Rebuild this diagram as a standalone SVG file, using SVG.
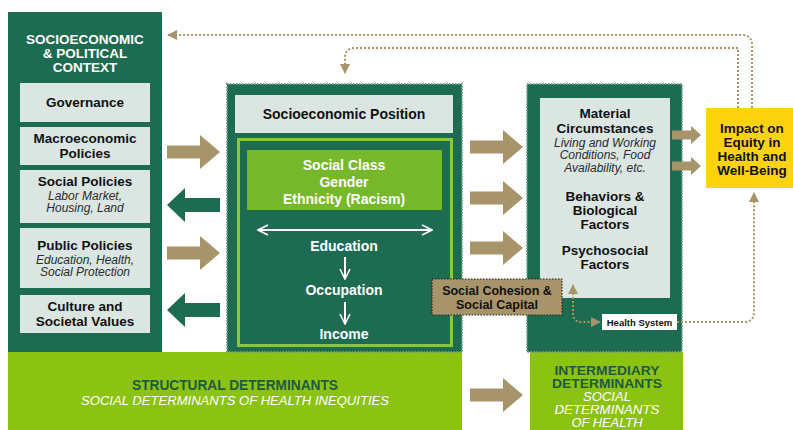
<svg xmlns="http://www.w3.org/2000/svg" width="793" height="430" viewBox="0 0 793 430">
<style>
text{font-family:"Liberation Sans",Arial,sans-serif;text-anchor:middle}
.b{font-weight:bold}
.i{font-style:italic}
.wt{fill:#ffffff}
.bk{fill:#111111}
.gy{fill:#2a2a2a}
.dg{fill:#1d6b50}
.lb{fill:#dbe6e2}
.lime{fill:#8cc212}
.tan{fill:#a8946b}
.perf{stroke:#6f9e8b;stroke-width:2;stroke-dasharray:1.5 1.5}
.con{fill:none;stroke:#a8946b;stroke-width:2;stroke-dasharray:2 2}
</style>
<defs>
<path id="ra" d="M0,-6.5H33V-17L53,0L33,17V6.5H0Z"/>
<path id="la" d="M53,-7H18V-17L0,0L18,17V7H53Z"/>
<path id="sa" d="M0,-4.5H19V-9L29,0L19,9V4.5H0Z"/>
<marker id="ah" viewBox="0 0 10 10" refX="9" refY="5" markerWidth="5" markerHeight="5" orient="auto-start-reverse" markerUnits="strokeWidth">
<path d="M0,0L10,5L0,10Z" fill="#a8946b"/>
</marker>
<marker id="wh" viewBox="0 0 12 12" refX="11" refY="6" markerWidth="6" markerHeight="6" orient="auto-start-reverse" markerUnits="strokeWidth">
<path d="M1,1L11,6L1,11" fill="none" stroke="#ffffff" stroke-width="1.6"/>
</marker>
</defs>
<rect width="793" height="430" fill="#ffffff"/>

<!-- bottom bands -->
<g id="structural">
<rect x="8" y="352" width="454" height="78" class="lime"/>
<text x="235" y="390" class="b" font-size="14" fill="#1d5a3f" textLength="206" lengthAdjust="spacingAndGlyphs">STRUCTURAL DETERMINANTS</text>
<text x="235" y="405" class="i wt" font-size="13.5" textLength="308" lengthAdjust="spacingAndGlyphs">SOCIAL DETERMINANTS OF HEALTH INEQUITIES</text>
</g>
<g id="intermediary">
<rect x="530" y="352" width="153" height="78" class="lime"/>
<text x="607" y="375" class="b" font-size="12.5" fill="#1d5a3f" textLength="105" lengthAdjust="spacingAndGlyphs">INTERMEDIARY</text>
<text x="607" y="388" class="b" font-size="12.5" fill="#1d5a3f" textLength="110" lengthAdjust="spacingAndGlyphs">DETERMINANTS</text>
<text x="607" y="401" class="i wt" font-size="12.5" textLength="48" lengthAdjust="spacingAndGlyphs">SOCIAL</text>
<text x="607" y="414" class="i wt" font-size="12.5" textLength="105" lengthAdjust="spacingAndGlyphs">DETERMINANTS</text>
<text x="607" y="427" class="i wt" font-size="12.5" textLength="71" lengthAdjust="spacingAndGlyphs">OF HEALTH</text>
</g>

<!-- left panel -->
<g id="context">
<rect x="8" y="12" width="154" height="340" class="dg"/>
<text x="85" y="44" class="b wt" font-size="13.5">SOCIOECONOMIC</text>
<text x="85" y="58" class="b wt" font-size="13.5">&amp; POLITICAL</text>
<text x="85" y="72" class="b wt" font-size="13.5">CONTEXT</text>
</g>
<g id="governance">
<rect x="20" y="83" width="130" height="39" class="lb"/>
<text x="85" y="107" class="b bk" font-size="13.5">Governance</text>
</g>
<g id="macroeconomic">
<rect x="20" y="127" width="130" height="38" class="lb"/>
<text x="85" y="143" class="b bk" font-size="13.5">Macroeconomic</text>
<text x="85" y="158" class="b bk" font-size="13.5">Policies</text>
</g>
<g id="social-policies">
<rect x="20" y="170" width="130" height="53" class="lb"/>
<text x="85" y="186" class="b bk" font-size="13.5">Social Policies</text>
<text x="85" y="199.5" class="i gy" font-size="12">Labor Market,</text>
<text x="85" y="212" class="i gy" font-size="12">Housing, Land</text>
</g>
<g id="public-policies">
<rect x="20" y="228" width="130" height="60" class="lb"/>
<text x="85" y="250" class="b bk" font-size="13.5">Public Policies</text>
<text x="85" y="263.5" class="i gy" font-size="12">Education, Health,</text>
<text x="85" y="276" class="i gy" font-size="12">Social Protection</text>
</g>
<g id="culture">
<rect x="20" y="295" width="130" height="38" class="lb"/>
<text x="85" y="310.5" class="b bk" font-size="13.5">Culture and</text>
<text x="85" y="325.5" class="b bk" font-size="13.5">Societal Values</text>
</g>

<!-- middle panel -->
<g id="socioeconomic-position">
<rect x="227" y="84" width="235" height="268" class="dg perf"/>
<rect x="235" y="95" width="218" height="38" class="lb"/>
<text x="344" y="119" class="b bk" font-size="14">Socioeconomic Position</text>
<rect x="238.5" y="139.5" width="213" height="206" fill="none" stroke="#8cc63f" stroke-width="3"/>
</g>
<g id="social-class">
<rect x="247" y="150" width="195" height="60" fill="#77b82a"/>
<text x="344" y="170" class="b wt" font-size="14">Social Class</text>
<text x="344" y="187" class="b wt" font-size="14">Gender</text>
<text x="344" y="204" class="b wt" font-size="14">Ethnicity (Racism)</text>
</g>
<g id="education">
<text x="344" y="251" class="b wt" font-size="14">Education</text>
</g>
<g id="occupation">
<text x="344" y="295" class="b wt" font-size="14">Occupation</text>
</g>
<g id="income">
<text x="344" y="339" class="b wt" font-size="14">Income</text>
</g>

<!-- right panel -->
<g id="intermediary-panel">
<rect x="527" y="84" width="155" height="268" class="dg perf"/>
<rect x="540" y="98" width="130" height="200" class="lb"/>
</g>
<g id="material">
<text x="605" y="118" class="b bk" font-size="13.5">Material</text>
<text x="605" y="133" class="b bk" font-size="13.5">Circumstances</text>
<text x="605" y="146.5" class="i gy" font-size="12">Living and Working</text>
<text x="605" y="159" class="i gy" font-size="12">Conditions, Food</text>
<text x="605" y="171.5" class="i gy" font-size="12">Availability, etc.</text>
</g>
<g id="behaviors">
<text x="605" y="201" class="b bk" font-size="13.5">Behaviors &amp;</text>
<text x="605" y="215" class="b bk" font-size="13.5">Biological</text>
<text x="605" y="229" class="b bk" font-size="13.5">Factors</text>
</g>
<g id="psychosocial">
<text x="605" y="255" class="b bk" font-size="13.5">Psychosocial</text>
<text x="605" y="269" class="b bk" font-size="13.5">Factors</text>
</g>
<g id="health-system">
<rect x="602" y="314" width="75" height="16" fill="#ffffff"/>
<text x="639.5" y="325.5" class="b bk" font-size="9.5">Health System</text>
</g>
<g id="social-cohesion">
<rect x="432" y="279" width="130" height="36" class="tan" stroke="#222" stroke-width="1.2" stroke-dasharray="1.5 1.5"/>
<text x="497" y="295" class="b bk" font-size="12.5">Social Cohesion &amp;</text>
<text x="497" y="308.5" class="b bk" font-size="12.5">Social Capital</text>
</g>
<g id="impact">
<rect x="706" y="108" width="87" height="80" fill="#fdd20e"/>
<text x="752" y="133" class="b bk" font-size="13.5">Impact on</text>
<text x="752" y="147" class="b bk" font-size="13.5">Equity in</text>
<text x="752" y="161" class="b bk" font-size="13.5">Health and</text>
<text x="752" y="175" class="b bk" font-size="13.5">Well-Being</text>
</g>

<!-- connectors -->
<g id="connectors">
<use href="#ra" x="167" y="152" class="tan"/>
<use href="#la" x="167" y="205" class="dg"/>
<use href="#ra" x="167" y="253" class="tan"/>
<use href="#la" x="167" y="310" class="dg"/>
<use href="#ra" x="470" y="147" class="tan"/>
<use href="#ra" x="470" y="198" class="tan"/>
<use href="#ra" x="470" y="248" class="tan"/>
<use href="#ra" x="470" y="395" class="tan"/>
<use href="#sa" x="672" y="135" class="tan"/>
<use href="#sa" x="672" y="166" class="tan"/>
<path d="M258,230H432" fill="none" stroke="#ffffff" stroke-width="2" marker-start="url(#wh)" marker-end="url(#wh)"/>
<path d="M345,257V279" fill="none" stroke="#ffffff" stroke-width="2" marker-end="url(#wh)"/>
<path d="M345,302V324" fill="none" stroke="#ffffff" stroke-width="2" marker-end="url(#wh)"/>
<path d="M752,108V45Q752,35 742,35H168" class="con" marker-end="url(#ah)"/>
<path d="M738,108V48H355Q345,48 345,58V73" class="con" marker-end="url(#ah)"/>
<path d="M677,322H744Q754,322 754,312V193" class="con" marker-end="url(#ah)"/>
<path d="M573,285V313Q573,322 582,322H600" class="con" marker-start="url(#ah)" marker-end="url(#ah)"/>
</g>
</svg>
